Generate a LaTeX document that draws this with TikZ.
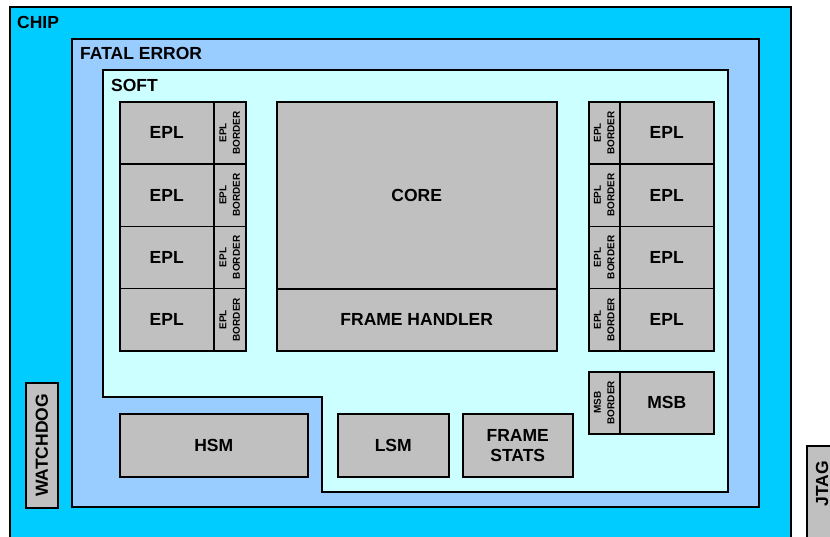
\documentclass[tikz,border=0pt]{standalone}
\usepackage{fontspec}
\setmainfont{Liberation Sans}
\usetikzlibrary{positioning}

\definecolor{chipcol}{HTML}{00CCFF}
\definecolor{fatalcol}{HTML}{99CCFF}
\definecolor{softcol}{HTML}{CCFFFF}
\definecolor{boxcol}{HTML}{C0C0C0}

\tikzset{
  area/.style={draw=black, line width=1.5pt},
  blk/.style={draw=black, fill=boxcol, line width=1.5pt, inner sep=0pt,
    anchor=north west, align=center, font=\fontsize{17.5}{20}\selectfont\bfseries},
  title/.style={inner sep=0pt, anchor=base west, font=\fontsize{17.5}{20}\selectfont\bfseries},
  big/.style={inner sep=0pt, align=center, font=\fontsize{17.5}{20}\selectfont\bfseries},
  tiny/.style={inner sep=0pt, align=center, rotate=90, font=\fontsize{10}{13.5}\selectfont\bfseries}
}

\begin{document}
\begin{tikzpicture}[yscale=-1, x=1pt, y=1pt] % flip y axis, pixel units
  \clip (0,0) rectangle (830,536);

  % nested regions
  \draw[area, fill=chipcol] (10,7) rectangle (791,600);
  \draw[area, fill=fatalcol] (72,39) rectangle (759,507);
  \draw[area, fill=softcol] (103,70) -- (728,70) -- (728,492) -- (322,492)
    -- (322,397) -- (103,397) -- cycle;
  \node[title] (chip) at (17,28) {CHIP};
  \node[title] (fatal) at (80,59) {FATAL ERROR};
  \node[title] (soft) at (111,91) {SOFT};

  % EPL columns
  \foreach \r in {1,...,4}{
      \pgfmathsetmacro\y{101+(\r-1)*62.25}
      \node[blk, minimum width=94, minimum height=62.25] (eplL\r) at (119,\y) {EPL};
      \node[blk, minimum width=32, minimum height=62.25] (brdL\r) at (213,\y) {};
      \node[tiny] (brdLtxt\r) at (brdL\r.center) {EPL\\BORDER};
      \node[blk, minimum width=31, minimum height=62.25] (brdR\r) at (588,\y) {};
      \node[tiny] (brdRtxt\r) at (brdR\r.center) {EPL\\BORDER};
      \node[blk, minimum width=94, minimum height=62.25] (eplR\r) at (619,\y) {EPL};
    }

  % core
  \node[blk, minimum width=280, minimum height=187] (core) at (276,101) {CORE};
  \node[blk, minimum width=280, minimum height=62] (handler) at (276,288) {FRAME HANDLER};

  % MSB
  \node[blk, minimum width=31, minimum height=62] (msbbrd) at (588,371) {};
  \node[tiny] (msbbrdtxt) at (msbbrd.center) {MSB\\BORDER};
  \node[blk, minimum width=94, minimum height=62] (msb) at (619,371) {MSB};

  % bottom row
  \node[blk, minimum width=188, minimum height=63] (hsm) at (119,413) {HSM};
  \node[blk, minimum width=111, minimum height=63] (lsm) at (337,413) {LSM};
  \node[blk, minimum width=110, minimum height=63] (stats) at (462,413) {FRAME\\STATS};

  % outside the soft area
  \node[blk, minimum width=32, minimum height=125] (wdog) at (25,382) {};
  \node[big, rotate=90] (wdogtxt) at (wdog.center) {WATCHDOG};
  \node[blk, minimum width=36, minimum height=130] (jtag) at (806,445) {};
  \node[big, rotate=90] (jtagtxt) at (822,484) {JTAG};
\end{tikzpicture}
\end{document}
